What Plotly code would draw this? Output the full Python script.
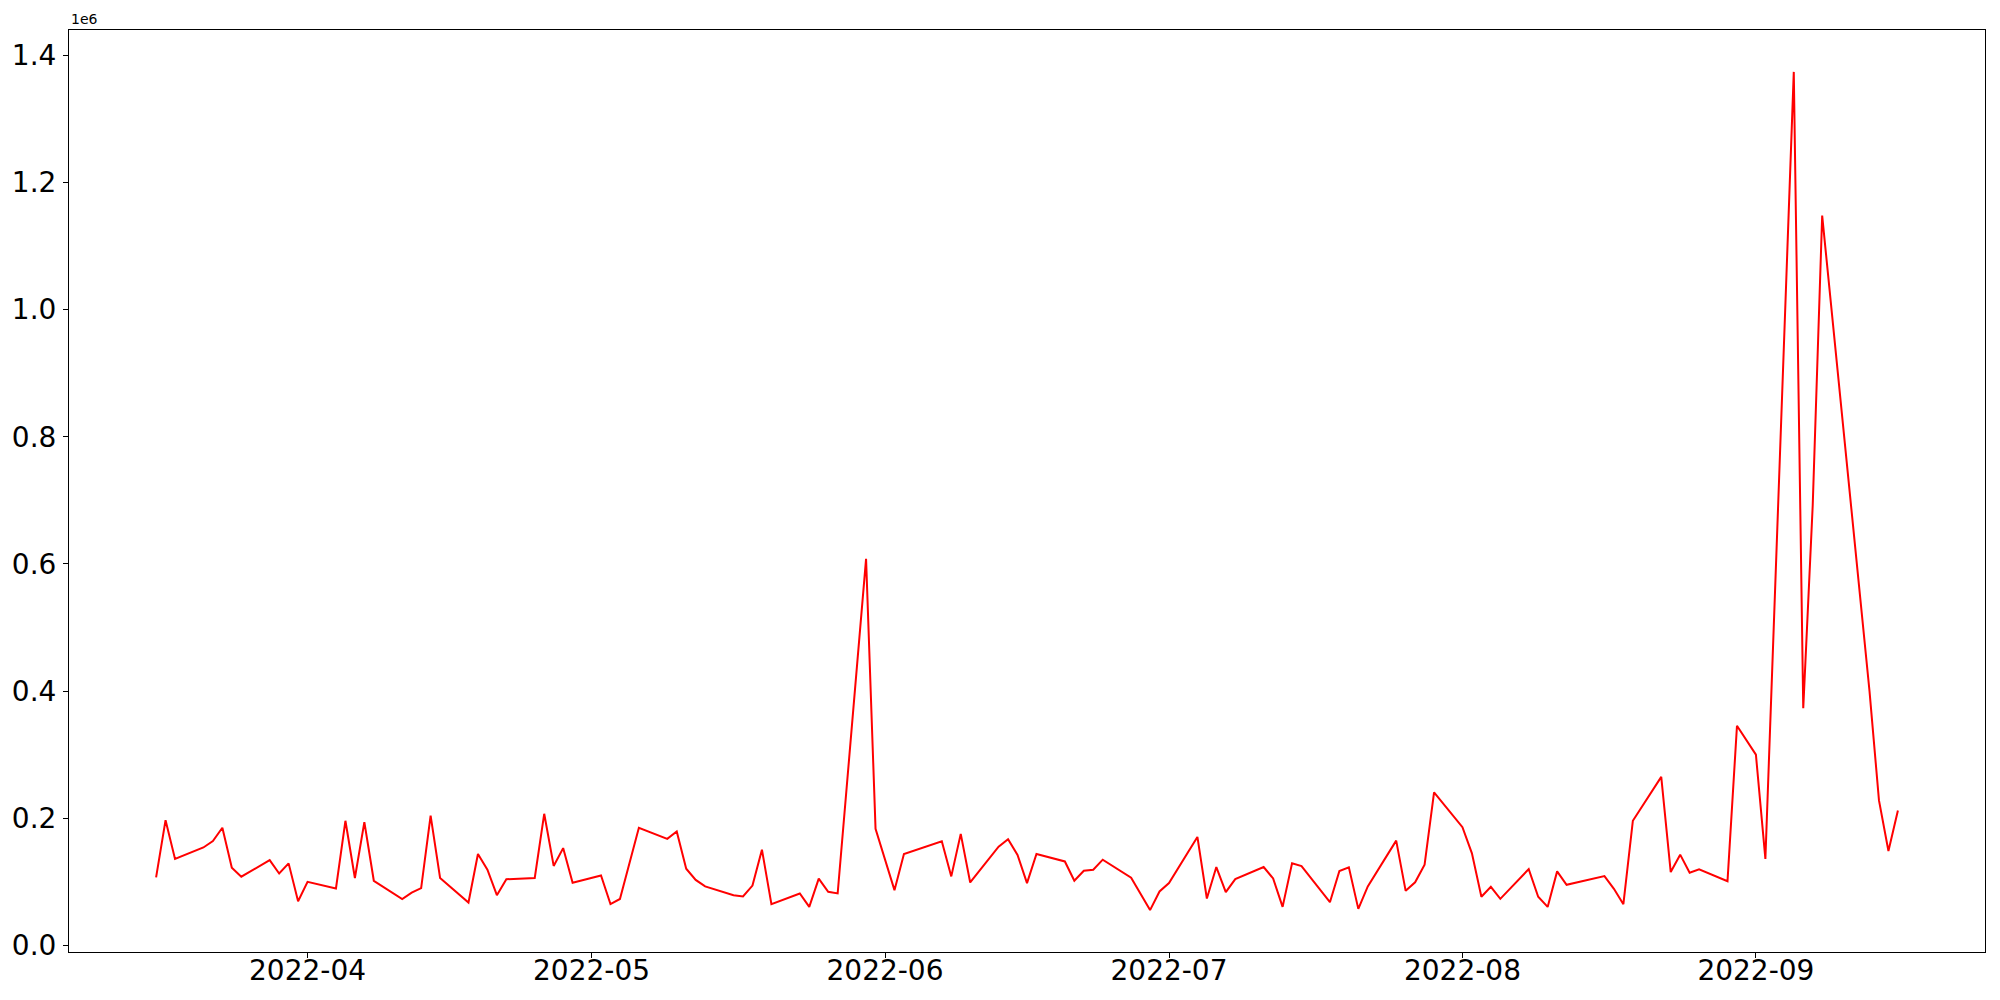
import plotly.graph_objects as go
import pandas as pd

# daily values (trading days)
dates = [
    "2022-03-16", "2022-03-17", "2022-03-18", "2022-03-21", "2022-03-22", "2022-03-23", "2022-03-24", "2022-03-25",
    "2022-03-28", "2022-03-29", "2022-03-30", "2022-03-31", "2022-04-01", "2022-04-04", "2022-04-05", "2022-04-06",
    "2022-04-07", "2022-04-08", "2022-04-11", "2022-04-12", "2022-04-13", "2022-04-14", "2022-04-15", "2022-04-18",
    "2022-04-19", "2022-04-20", "2022-04-21", "2022-04-22", "2022-04-25", "2022-04-26", "2022-04-27", "2022-04-28",
    "2022-04-29", "2022-05-02", "2022-05-03", "2022-05-04", "2022-05-06", "2022-05-09", "2022-05-10", "2022-05-11",
    "2022-05-12", "2022-05-13", "2022-05-16", "2022-05-17", "2022-05-18", "2022-05-19", "2022-05-20", "2022-05-23",
    "2022-05-24", "2022-05-25", "2022-05-26", "2022-05-27", "2022-05-30", "2022-05-31", "2022-06-02", "2022-06-03",
    "2022-06-07", "2022-06-08", "2022-06-09", "2022-06-10", "2022-06-13", "2022-06-14", "2022-06-15", "2022-06-16",
    "2022-06-17", "2022-06-20", "2022-06-21", "2022-06-22", "2022-06-23", "2022-06-24", "2022-06-27", "2022-06-28",
    "2022-06-29", "2022-06-30", "2022-07-01", "2022-07-04", "2022-07-05", "2022-07-06", "2022-07-07", "2022-07-08",
    "2022-07-11", "2022-07-12", "2022-07-13", "2022-07-14", "2022-07-15", "2022-07-18", "2022-07-19", "2022-07-20",
    "2022-07-21", "2022-07-22", "2022-07-25", "2022-07-26", "2022-07-27", "2022-07-28", "2022-07-29", "2022-08-01",
    "2022-08-02", "2022-08-03", "2022-08-04", "2022-08-05", "2022-08-08", "2022-08-09", "2022-08-10", "2022-08-11",
    "2022-08-12", "2022-08-16", "2022-08-17", "2022-08-18", "2022-08-19", "2022-08-22", "2022-08-23", "2022-08-24",
    "2022-08-25", "2022-08-26", "2022-08-29", "2022-08-30", "2022-08-31", "2022-09-01", "2022-09-02", "2022-09-05",
    "2022-09-06", "2022-09-07", "2022-09-08", "2022-09-13", "2022-09-14", "2022-09-15", "2022-09-16",
]
values = [
    107000, 197000, 136000, 154000, 164000, 185000, 122000, 108000,
    134000, 113000, 129000, 69500, 100000, 89500, 196000, 106000,
    194000, 101600, 73000, 83000, 90000, 204000, 106000, 67400,
    143800, 119000, 79000, 104000, 106000, 207000, 125000, 153000,
    98400, 110000, 65000, 73000, 185000, 167500, 179000, 120600,
    103000, 92700, 79000, 77000, 94000, 150600, 64800, 81700,
    60500, 105000, 84200, 81700, 608000, 183300, 86900, 143800,
    163800, 108500, 175400, 99000, 155300, 167000, 142200, 98000,
    143800, 132000, 101600, 117400, 119000, 134800, 106500, 81700,
    55500, 84800, 98000, 170600, 73700, 123200, 83700, 104300,
    123200, 105300, 60500, 129000, 124800, 67900, 117000, 122700,
    57400, 92700, 164800, 85800, 99200, 126900, 240700, 186000,
    144800, 76400, 92200, 73200, 120000, 76400, 60500, 116400,
    95300, 109000, 89000, 64800, 196000, 265000, 115300, 142700,
    114300, 119500, 101000, 345500, 323000, 300000, 136000, 1374000,
    373000, 692000, 1148000, 400000, 228000, 148500, 212000,
]

y_ticks = [0, 200000, 400000, 600000, 800000, 1000000, 1200000, 1400000]
y_tick_labels = ["0.0", "0.2", "0.4", "0.6", "0.8", "1.0", "1.2", "1.4"]
x_ticks = ["2022-04-01", "2022-05-01", "2022-06-01", "2022-07-01", "2022-08-01", "2022-09-01"]

x = pd.to_datetime(dates)
span = x.max() - x.min()
x_range = [x.min() - span * 0.05, x.max() + span * 0.05]
vspan = max(values) - min(values)
y_range = [min(values) - vspan * 0.05, max(values) + vspan * 0.05]

fig = go.Figure()
fig.add_trace(go.Scatter(x=x, y=values, mode="lines",
                         line=dict(color="red", width=2)))

axis_style = dict(showgrid=False, zeroline=False, showline=True, linecolor="black",
                  linewidth=1.1, mirror=True, ticks="outside", ticklen=5, tickwidth=1.1,
                  tickcolor="black", automargin=False,
                  tickfont=dict(family="DejaVu Sans", size=28, color="black"))

fig.update_layout(
    width=2000, height=1000,
    margin=dict(l=61, r=23, t=22, b=56),
    paper_bgcolor="white", plot_bgcolor="white",
    showlegend=False,
    xaxis=dict(range=x_range, tickvals=x_ticks, tickformat="%Y-%m", ticklabelstandoff=-12, **axis_style),
    yaxis=dict(range=y_range, tickvals=y_ticks, ticktext=y_tick_labels, ticklabelstandoff=1, **axis_style),
    annotations=[dict(text="1e6", xref="paper", yref="paper", x=0, y=1, xanchor="left",
                      yanchor="bottom", showarrow=False, yshift=1,
                      font=dict(family="DejaVu Sans", size=14, color="black"))],
)

fig.write_html("out.html")
